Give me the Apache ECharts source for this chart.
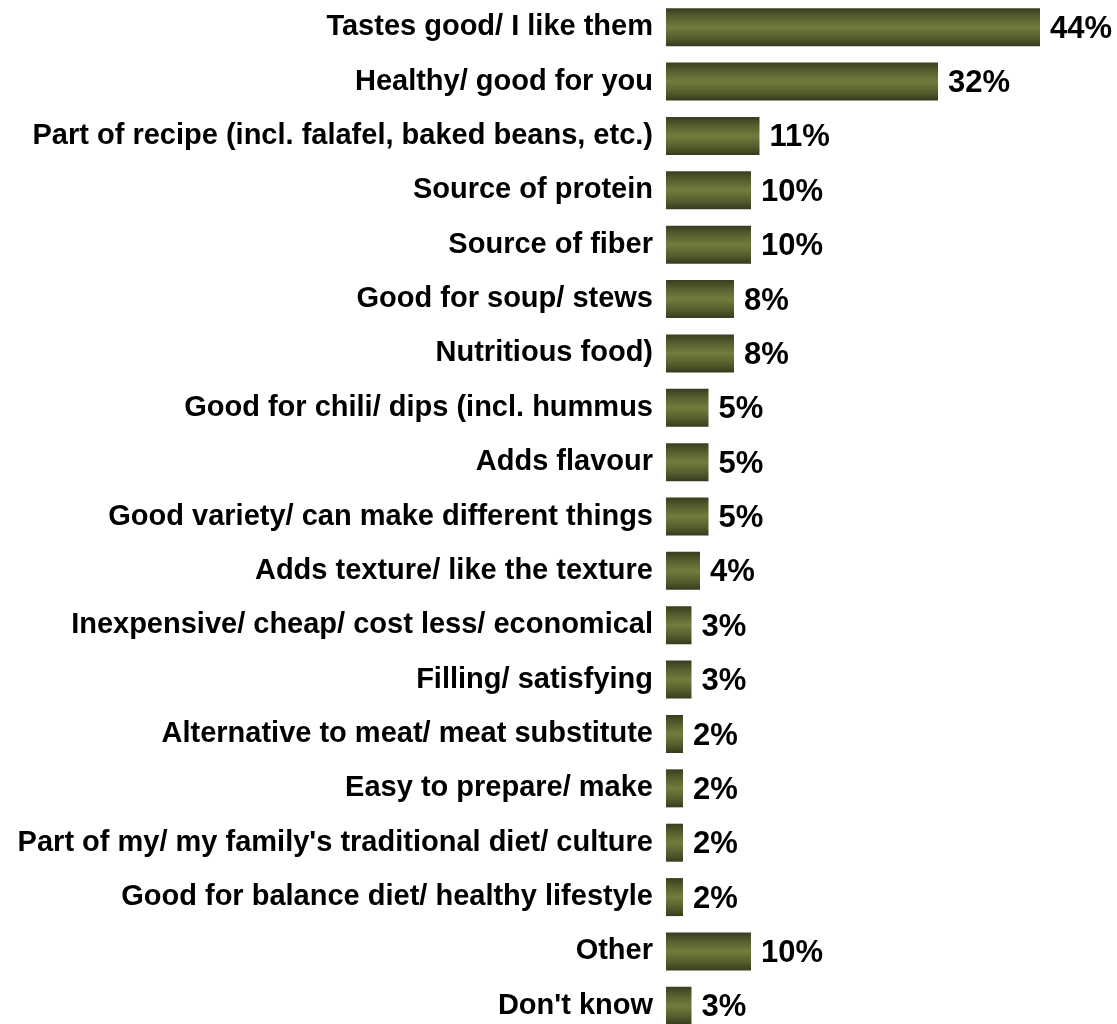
<!DOCTYPE html>
<html>
<head>
<meta charset="utf-8">
<title>Reasons for eating pulses</title>
<script src="https://cdn.jsdelivr.net/npm/echarts@6/dist/echarts.min.js"></script>
<style>
  html, body { margin: 0; padding: 0; background: #ffffff; overflow: hidden; }
  #chart { width: 1117px; height: 1033px; }
</style>
</head>
<body>
<div id="chart"></div>
<script>
// Reasons given, listed top to bottom
const reasons = [
  "Tastes good/ I like them",
  "Healthy/ good for you",
  "Part of recipe (incl. falafel, baked beans, etc.)",
  "Source of protein",
  "Source of fiber",
  "Good for soup/ stews",
  "Nutritious food)",
  "Good for chili/ dips (incl. hummus",
  "Adds flavour",
  "Good variety/ can make different things",
  "Adds texture/ like the texture",
  "Inexpensive/ cheap/ cost less/ economical",
  "Filling/ satisfying",
  "Alternative to meat/ meat substitute",
  "Easy to prepare/ make",
  "Part of my/ my family's traditional diet/ culture",
  "Good for balance diet/ healthy lifestyle",
  "Other",
  "Don't know"
];

// Share of respondents (%)
const shares = [44, 32, 11, 10, 10, 8, 8, 5, 5, 5, 4, 3, 3, 2, 2, 2, 2, 10, 3];

const FONT = "'Liberation Sans', Arial, Helvetica, sans-serif";

const chart = echarts.init(document.getElementById('chart'), null, { renderer: 'canvas' });

// Cylinder-like shading across each bar's thickness
const barFill = new echarts.graphic.LinearGradient(0, 0, 0, 1, [
  { offset: 0.00, color: '#383d1f' },
  { offset: 0.22, color: '#545e2d' },
  { offset: 0.50, color: '#717d3d' },
  { offset: 0.78, color: '#545e2d' },
  { offset: 1.00, color: '#363b1d' }
]);

chart.setOption({
  animation: false,
  backgroundColor: '#ffffff',
  grid: { left: 666, right: 26, top: 0, bottom: 0, containLabel: false },
  xAxis: {
    type: 'value',
    min: 0,
    max: 50,
    show: false
  },
  yAxis: {
    type: 'category',
    data: reasons,
    inverse: true,
    axisLine: { show: false },
    axisTick: { show: false },
    splitLine: { show: false },
    axisLabel: {
      margin: 13,
      color: '#000000',
      fontFamily: FONT,
      fontWeight: 'bold',
      fontSize: 29
    }
  },
  series: [{
    type: 'bar',
    data: shares,
    barWidth: 38,
    itemStyle: { color: barFill },
    label: {
      show: true,
      position: 'right',
      distance: 10,
      formatter: '{c}%',
      color: '#000000',
      fontFamily: FONT,
      fontWeight: 'bold',
      fontSize: 31,
      offset: [0, 2]
    }
  }]
});
</script>
</body>
</html>
